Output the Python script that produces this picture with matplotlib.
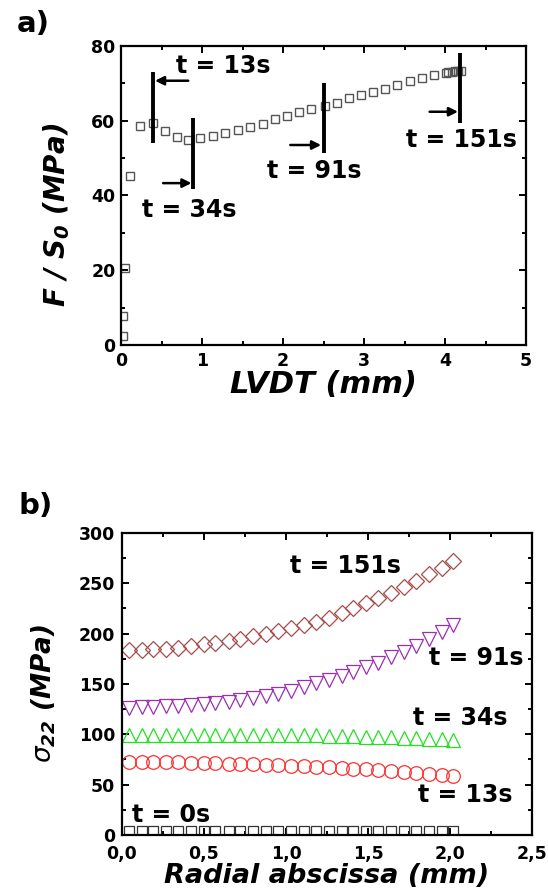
import matplotlib
matplotlib.use("Agg")
import matplotlib.pyplot as plt
from matplotlib.ticker import MultipleLocator, FuncFormatter

plt.rcParams['font.family'] = ['DejaVu Sans']
plt.rcParams['mathtext.fontset'] = 'custom'
plt.rcParams['mathtext.it'] = 'DejaVu Sans:italic'
plt.rcParams['mathtext.bf'] = 'DejaVu Sans:bold:italic'
plt.rcParams['mathtext.rm'] = 'DejaVu Sans:bold:italic'

# ---------------- Panel a data ----------------
lvdt = [0.02, 0.02, 0.05, 0.11, 0.24, 0.39, 0.54, 0.69, 0.83, 0.98, 1.14, 1.29,
        1.45, 1.59, 1.75, 1.90, 2.05, 2.20, 2.35, 2.52, 2.67, 2.81, 2.96, 3.11,
        3.26, 3.41, 3.57, 3.71, 3.86, 4.01, 4.04, 4.08, 4.12, 4.16, 4.20]
stress = [2.4, 7.8, 20.5, 45.2, 58.7, 59.3, 57.3, 55.6, 54.9, 55.3, 55.9, 56.6,
          57.5, 58.2, 59.1, 60.4, 61.3, 62.2, 63.1, 64.0, 64.8, 66.0, 66.8, 67.8,
          68.6, 69.5, 70.6, 71.3, 72.1, 72.8, 73.0, 73.1, 73.2, 73.3, 73.3]

a_labels = ["t = 13s", "t = 34s", "t = 91s", "t = 151s"]
a_label_x = [1.26, 0.84, 2.39, 4.20]
a_label_y = [72.7, 34.3, 44.6, 53.1]
a_vline_x = [0.40, 0.89, 2.50, 4.19]
a_vline_y0 = [54.1, 41.7, 51.3, 59.3]
a_vline_y1 = [73.1, 60.7, 70.2, 78.0]
a_arrow_y = [70.7, 43.3, 53.5, 62.4]
a_arrow_from = [0.83, 0.52, 2.09, 3.81]
a_arrow_to = [0.42, 0.87, 2.47, 4.16]

# ---------------- Panel b data ----------------
radial = [0.04, 0.12, 0.19, 0.27, 0.34, 0.42, 0.50, 0.57, 0.65, 0.72, 0.80, 0.88,
          0.95, 1.03, 1.11, 1.18, 1.26, 1.34, 1.41, 1.49, 1.56, 1.64, 1.72, 1.79,
          1.87, 1.95, 2.02]
s_t0 = [3.5] * 27
s_t13 = [72.8, 72.7, 72.6, 72.4, 72.2, 71.9, 71.6, 71.3, 70.9, 70.5, 70.1, 69.7,
         69.2, 68.7, 68.2, 67.7, 67.2, 66.6, 66.0, 65.3, 64.5, 63.7, 62.8, 61.9,
         60.8, 59.7, 58.6]
s_t34 = [99.6, 99.6, 99.6, 99.6, 99.5, 99.5, 99.5, 99.5, 99.5, 99.5, 99.5, 99.4,
         99.4, 99.3, 99.1, 98.9, 98.6, 98.3, 98.0, 97.7, 97.3, 96.9, 96.5, 96.1,
         95.6, 95.1, 94.5]
s_t91 = [126.5, 126.8, 127.2, 127.8, 128.5, 129.2, 130.0, 131.0, 132.3, 134.0,
         136.0, 138.2, 140.5, 143.5, 147.0, 150.5, 154.0, 158.0, 162.0, 166.5,
         171.0, 176.5, 182.0, 188.0, 194.5, 201.5, 209.0]
s_t151 = [183.6, 183.8, 184.3, 185.2, 186.2, 187.6, 189.3, 191.0, 193.0, 195.0,
          197.5, 200.0, 202.5, 205.5, 208.5, 212.0, 216.0, 220.5, 225.0, 230.0,
          235.0, 240.5, 246.5, 252.5, 259.0, 265.5, 272.5]

b_labels = ["t = 151s", "t = 91s", "t = 34s", "t = 13s", "t = 0s"]
b_label_x = [1.365, 2.16, 2.065, 2.09, 0.30]
b_label_y = [260.0, 168.9, 109.3, 33.1, 13.2]

# ---------------- Figure ----------------
fig = plt.figure(figsize=(5.48, 8.96), dpi=100)
axa = fig.add_axes([0.2208, 0.6150, 0.7391, 0.3337])
axb = fig.add_axes([0.2226, 0.0681, 0.7482, 0.3371])

TICKFS = 12.5
ANNFS = 17


def style_axis(ax, xpad=4, ypad=4):
    for s in ax.spines.values():
        s.set_linewidth(1.6)
    ax.tick_params(which='both', direction='in', top=True, right=True, width=1.4)
    ax.tick_params(which='major', length=5, labelsize=TICKFS)
    ax.tick_params(axis='x', which='major', pad=xpad)
    ax.tick_params(axis='y', which='major', pad=ypad)
    ax.tick_params(which='minor', length=3)
    for lab in ax.get_xticklabels() + ax.get_yticklabels():
        lab.set_fontweight('bold')


# Panel a
axa.plot(lvdt, stress, ls='none', marker='s', ms=6.2, mfc='none', mec='#555555', mew=1.0)
for x, y0, y1 in zip(a_vline_x, a_vline_y0, a_vline_y1):
    axa.plot([x, x], [y0, y1], color='black', lw=2.8, solid_capstyle='butt')
for y, x0, x1 in zip(a_arrow_y, a_arrow_from, a_arrow_to):
    axa.annotate('', xy=(x1, y), xytext=(x0, y),
                 arrowprops=dict(arrowstyle='-|>', color='black', lw=1.8,
                                 mutation_scale=13, shrinkA=0, shrinkB=0))
for t, x, y in zip(a_labels, a_label_x, a_label_y):
    axa.text(x, y, t, ha='center', va='baseline', fontsize=ANNFS, fontweight='bold')

axa.set_xlim(0, 5)
axa.set_ylim(0, 80)
axa.xaxis.set_major_locator(MultipleLocator(1))
axa.xaxis.set_minor_locator(MultipleLocator(0.5))
axa.yaxis.set_major_locator(MultipleLocator(20))
axa.yaxis.set_minor_locator(MultipleLocator(10))
style_axis(axa, xpad=5, ypad=4)
axa.set_xlabel('LVDT (mm)', fontsize=22, fontweight='bold', fontstyle='italic', labelpad=0)
axa.set_ylabel(r'F / S$_\mathbf{0}$ (MPa)', fontsize=20, fontweight='bold', fontstyle='italic',
               va='center', ha='center', rotation_mode='default')
axa.yaxis.set_label_coords(-0.158, 0.435)

# Panel b
mk = dict(ls='none', mfc='none', mew=0.9)
axb.plot(radial, s_t0, marker='s', ms=6.5, mec='#333333', **mk)
axb.plot(radial, s_t13, marker='o', ms=9.8, mec='#ff3030', **mk)
axb.plot(radial, s_t34, marker='^', ms=10, mec='#22e022', **mk)
axb.plot(radial, s_t91, marker='v', ms=10, mec='#9a30b0', **mk)
axb.plot(radial, s_t151, marker='D', ms=8.2, mec='#a84a4a', **mk)
for t, x, y in zip(b_labels, b_label_x, b_label_y):
    axb.text(x, y, t, ha='center', va='baseline', fontsize=ANNFS, fontweight='bold')

axb.set_xlim(0, 2.5)
axb.set_ylim(0, 300)
axb.xaxis.set_major_locator(MultipleLocator(0.5))
axb.xaxis.set_minor_locator(MultipleLocator(0.25))
axb.yaxis.set_major_locator(MultipleLocator(50))
axb.yaxis.set_minor_locator(MultipleLocator(25))
axb.xaxis.set_major_formatter(FuncFormatter(lambda v, p: f"{v:.1f}".replace('.', ',')))
style_axis(axb, xpad=7.5, ypad=5)
axb.set_xlabel('Radial abscissa (mm)', fontsize=19.5, fontweight='bold', fontstyle='italic', labelpad=0)
axb.set_ylabel(r'$\sigma_{\mathbf{22}}$ (MPa)', fontsize=19, fontweight='bold', fontstyle='italic',
               va='center', ha='center', rotation_mode='default')
axb.yaxis.set_label_coords(-0.19, 0.47)

fig.text(33 / 548, 1 - 24 / 896, 'a)', fontsize=21, fontweight='bold', ha='center', va='center')
fig.text(36 / 548, 1 - 506 / 896, 'b)', fontsize=21, fontweight='bold', ha='center', va='center')

fig.savefig('out.png', dpi=100)
